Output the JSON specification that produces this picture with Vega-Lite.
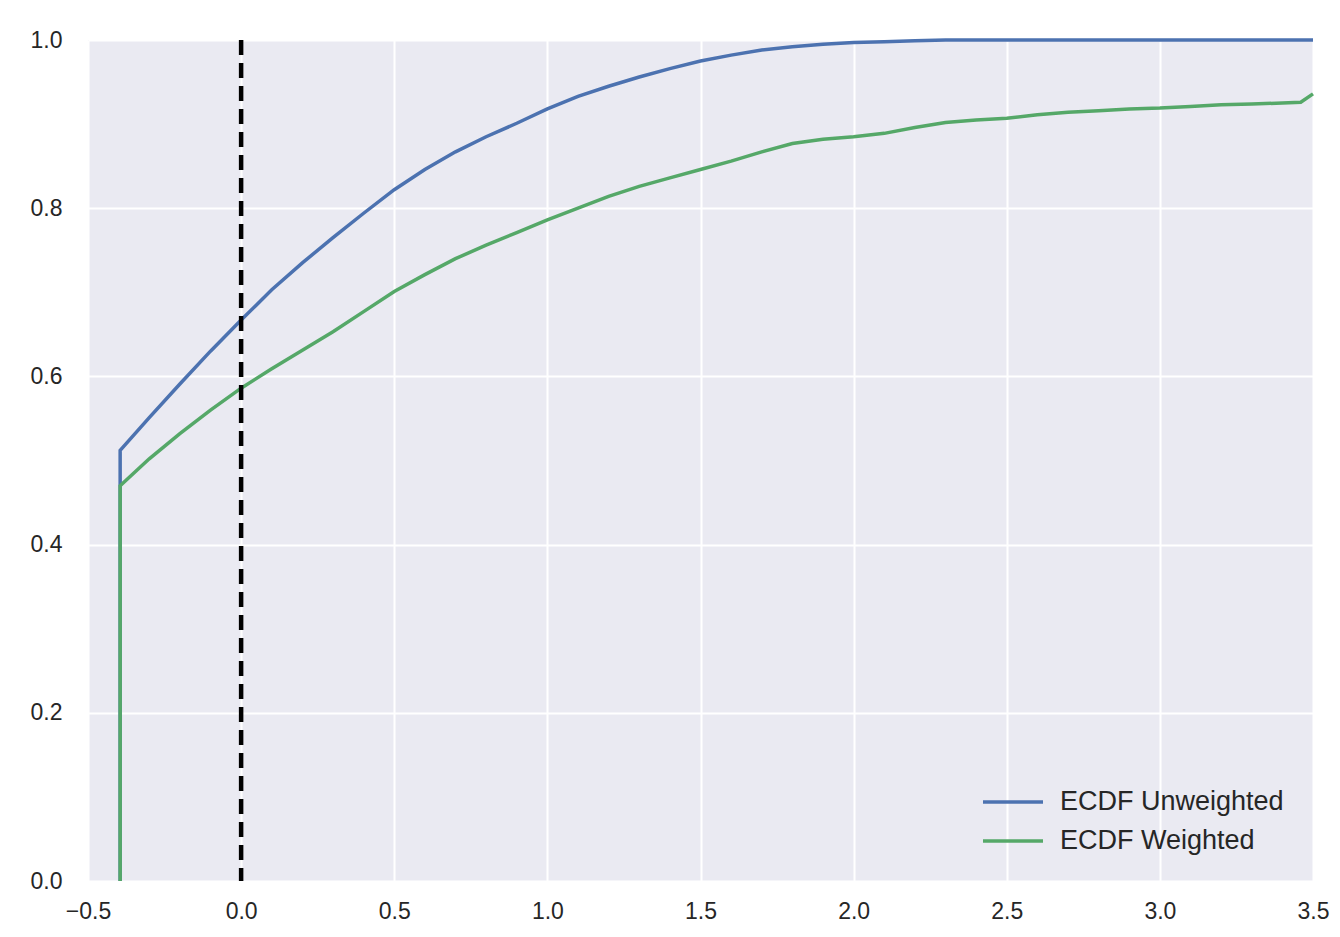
{
  "$schema": "https://vega.github.io/schema/vega-lite/v6.json",
  "width": 1225,
  "height": 841,
  "autosize": {"type": "none"},
  "padding": {"left": 88, "top": 40, "right": 27, "bottom": 56},
  "background": "white",
  "config": {
    "view": {"fill": "#eaeaf2", "stroke": null},
    "font": "Liberation Sans",
    "axis": {
      "grid": true,
      "gridColor": "white",
      "gridWidth": 2,
      "domain": false,
      "ticks": false,
      "labelFont": "Liberation Sans",
      "labelFontSize": 23,
      "labelColor": "#262626",
      "labelFlush": false,
      "title": null
    }
  },
  "datasets": {
    "ecdf": [
      {"series": "ECDF Unweighted", "i": 0, "x": -0.395, "y": 0},
      {"series": "ECDF Unweighted", "i": 1, "x": -0.395, "y": 0.512},
      {"series": "ECDF Unweighted", "i": 2, "x": -0.3, "y": 0.551},
      {"series": "ECDF Unweighted", "i": 3, "x": -0.2, "y": 0.591},
      {"series": "ECDF Unweighted", "i": 4, "x": -0.1, "y": 0.63},
      {"series": "ECDF Unweighted", "i": 5, "x": 0.0, "y": 0.667},
      {"series": "ECDF Unweighted", "i": 6, "x": 0.05, "y": 0.685},
      {"series": "ECDF Unweighted", "i": 7, "x": 0.1, "y": 0.703},
      {"series": "ECDF Unweighted", "i": 8, "x": 0.2, "y": 0.735},
      {"series": "ECDF Unweighted", "i": 9, "x": 0.3, "y": 0.765},
      {"series": "ECDF Unweighted", "i": 10, "x": 0.4, "y": 0.794},
      {"series": "ECDF Unweighted", "i": 11, "x": 0.5, "y": 0.822},
      {"series": "ECDF Unweighted", "i": 12, "x": 0.6, "y": 0.846},
      {"series": "ECDF Unweighted", "i": 13, "x": 0.7, "y": 0.867},
      {"series": "ECDF Unweighted", "i": 14, "x": 0.8, "y": 0.885},
      {"series": "ECDF Unweighted", "i": 15, "x": 0.9, "y": 0.901},
      {"series": "ECDF Unweighted", "i": 16, "x": 1.0, "y": 0.918},
      {"series": "ECDF Unweighted", "i": 17, "x": 1.1, "y": 0.933},
      {"series": "ECDF Unweighted", "i": 18, "x": 1.2, "y": 0.945},
      {"series": "ECDF Unweighted", "i": 19, "x": 1.3, "y": 0.956},
      {"series": "ECDF Unweighted", "i": 20, "x": 1.4, "y": 0.966},
      {"series": "ECDF Unweighted", "i": 21, "x": 1.5, "y": 0.975},
      {"series": "ECDF Unweighted", "i": 22, "x": 1.6, "y": 0.982},
      {"series": "ECDF Unweighted", "i": 23, "x": 1.7, "y": 0.988},
      {"series": "ECDF Unweighted", "i": 24, "x": 1.8, "y": 0.992},
      {"series": "ECDF Unweighted", "i": 25, "x": 1.9, "y": 0.995},
      {"series": "ECDF Unweighted", "i": 26, "x": 2.0, "y": 0.997},
      {"series": "ECDF Unweighted", "i": 27, "x": 2.1, "y": 0.998},
      {"series": "ECDF Unweighted", "i": 28, "x": 2.2, "y": 0.999},
      {"series": "ECDF Unweighted", "i": 29, "x": 2.3, "y": 1.0},
      {"series": "ECDF Unweighted", "i": 30, "x": 3.5, "y": 1.0},
      {"series": "ECDF Weighted", "i": 0, "x": -0.395, "y": 0},
      {"series": "ECDF Weighted", "i": 1, "x": -0.395, "y": 0.47},
      {"series": "ECDF Weighted", "i": 2, "x": -0.3, "y": 0.502},
      {"series": "ECDF Weighted", "i": 3, "x": -0.2, "y": 0.532},
      {"series": "ECDF Weighted", "i": 4, "x": -0.1, "y": 0.56},
      {"series": "ECDF Weighted", "i": 5, "x": 0.0, "y": 0.586},
      {"series": "ECDF Weighted", "i": 6, "x": 0.1, "y": 0.609},
      {"series": "ECDF Weighted", "i": 7, "x": 0.2, "y": 0.631},
      {"series": "ECDF Weighted", "i": 8, "x": 0.3, "y": 0.653},
      {"series": "ECDF Weighted", "i": 9, "x": 0.4, "y": 0.677},
      {"series": "ECDF Weighted", "i": 10, "x": 0.5, "y": 0.701},
      {"series": "ECDF Weighted", "i": 11, "x": 0.6, "y": 0.721},
      {"series": "ECDF Weighted", "i": 12, "x": 0.7, "y": 0.74},
      {"series": "ECDF Weighted", "i": 13, "x": 0.8, "y": 0.756},
      {"series": "ECDF Weighted", "i": 14, "x": 0.9, "y": 0.771},
      {"series": "ECDF Weighted", "i": 15, "x": 1.0, "y": 0.786},
      {"series": "ECDF Weighted", "i": 16, "x": 1.1, "y": 0.8},
      {"series": "ECDF Weighted", "i": 17, "x": 1.2, "y": 0.814},
      {"series": "ECDF Weighted", "i": 18, "x": 1.3, "y": 0.826},
      {"series": "ECDF Weighted", "i": 19, "x": 1.4, "y": 0.836},
      {"series": "ECDF Weighted", "i": 20, "x": 1.5, "y": 0.846},
      {"series": "ECDF Weighted", "i": 21, "x": 1.6, "y": 0.856},
      {"series": "ECDF Weighted", "i": 22, "x": 1.7, "y": 0.867},
      {"series": "ECDF Weighted", "i": 23, "x": 1.8, "y": 0.877},
      {"series": "ECDF Weighted", "i": 24, "x": 1.9, "y": 0.882},
      {"series": "ECDF Weighted", "i": 25, "x": 2.0, "y": 0.885},
      {"series": "ECDF Weighted", "i": 26, "x": 2.1, "y": 0.889},
      {"series": "ECDF Weighted", "i": 27, "x": 2.2, "y": 0.896},
      {"series": "ECDF Weighted", "i": 28, "x": 2.3, "y": 0.902},
      {"series": "ECDF Weighted", "i": 29, "x": 2.4, "y": 0.905},
      {"series": "ECDF Weighted", "i": 30, "x": 2.5, "y": 0.907},
      {"series": "ECDF Weighted", "i": 31, "x": 2.6, "y": 0.911},
      {"series": "ECDF Weighted", "i": 32, "x": 2.7, "y": 0.914},
      {"series": "ECDF Weighted", "i": 33, "x": 2.8, "y": 0.916},
      {"series": "ECDF Weighted", "i": 34, "x": 2.9, "y": 0.918},
      {"series": "ECDF Weighted", "i": 35, "x": 3.0, "y": 0.919},
      {"series": "ECDF Weighted", "i": 36, "x": 3.1, "y": 0.921},
      {"series": "ECDF Weighted", "i": 37, "x": 3.2, "y": 0.923},
      {"series": "ECDF Weighted", "i": 38, "x": 3.3, "y": 0.924},
      {"series": "ECDF Weighted", "i": 39, "x": 3.4, "y": 0.925},
      {"series": "ECDF Weighted", "i": 40, "x": 3.46, "y": 0.926},
      {"series": "ECDF Weighted", "i": 41, "x": 3.5, "y": 0.936}
    ]
  },
  "layer": [
    {
      "data": {"name": "ecdf"},
      "mark": {"type": "line", "strokeWidth": 3.5, "clip": false},
      "encoding": {
        "x": {
          "field": "x",
          "type": "quantitative",
          "scale": {"domain": [-0.5, 3.5], "nice": false, "zero": false},
          "axis": {"values": [-0.5, 0, 0.5, 1, 1.5, 2, 2.5, 3, 3.5], "format": ".1f", "labelPadding": 19}
        },
        "y": {
          "field": "y",
          "type": "quantitative",
          "scale": {"domain": [0, 1], "nice": false},
          "axis": {"values": [0, 0.2, 0.4, 0.6, 0.8, 1.0], "format": ".1f", "labelPadding": 26}
        },
        "color": {
          "field": "series",
          "type": "nominal",
          "scale": {"domain": ["ECDF Unweighted", "ECDF Weighted"], "range": ["#4c72b0", "#55a868"]},
          "legend": {
            "title": null,
            "orient": "none",
            "legendX": 908,
            "legendY": 745,
            "symbolType": "M-2,0H2",
            "symbolSize": 900,
            "symbolStrokeWidth": 3.5,
            "labelFont": "Liberation Sans",
            "labelFontSize": 27,
            "labelColor": "#262626",
            "labelOffset": 30,
            "labelLimit": 0,
            "rowPadding": 9,
            "padding": 0
          }
        },
        "order": {"field": "i", "type": "quantitative"}
      }
    },
    {
      "data": {"values": [{"x0": 0}]},
      "mark": {"type": "rule", "color": "black", "strokeWidth": 4.5, "strokeDash": [15, 8]},
      "encoding": {"x": {"field": "x0", "type": "quantitative"}}
    }
  ]
}
